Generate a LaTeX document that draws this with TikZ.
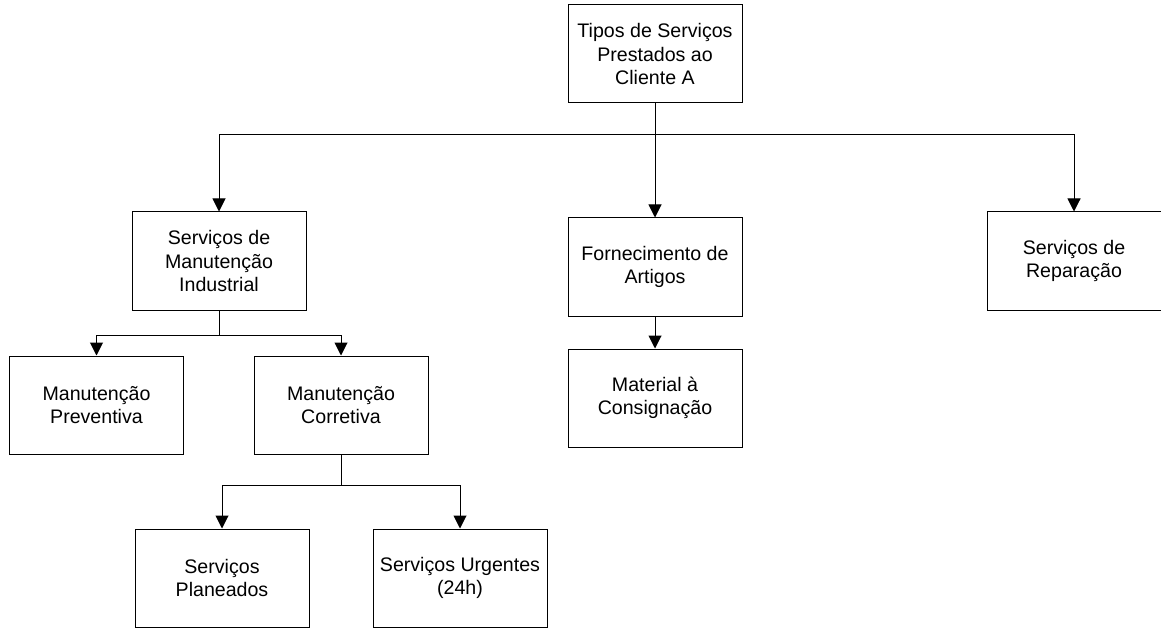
\documentclass[tikz,border=0pt]{standalone}
\usepackage{fontspec}
\setmainfont{Liberation Sans}
\usetikzlibrary{arrows.meta}
\begin{document}
\begin{tikzpicture}[x=1pt,y=-1pt,
  box/.style={draw=black, line width=1pt, minimum width=174pt, minimum height=98pt,
    inner sep=0pt, align=center, font=\fontsize{19.6}{23.4}\selectfont},
  conn/.style={draw=black, line width=1pt},
  arr/.style={conn, -{Triangle[width=13pt,length=13pt]}}]
\useasboundingbox (0,0) rectangle (1161,628);
\node[box] (top) at (655,54) {Tipos de Serviços\\Prestados ao\\Cliente A};
\node[box] (smi) at (219,261) {Serviços de\\Manutenção\\Industrial};
\node[box] (forn) at (655,267) {Fornecimento de\\Artigos};
\node[box] (rep) at (1074,261) {Serviços de\\Reparação};
\node[box] (prev) at (96.5,405) {Manutenção\\Preventiva};
\node[box] (corr) at (341,405) {Manutenção\\Corretiva};
\node[box] (mat) at (655,398) {Material à\\Consignação};
\node[box] (plan) at (222,578) {Serviços\\Planeados};
\node[box] (urg) at (460,578) {Serviços Urgentes\\(24h)};
\coordinate (j1) at (655,135);
\coordinate (j2) at (219,335);
\coordinate (j3) at (341,485);
\draw[arr] (top.south) -- (forn.north);
\draw[arr] (j1) -| (smi.north);
\draw[arr] (j1) -| (rep.north);
\draw[conn] (smi.south) -- (j2);
\draw[arr] (j2) -| (prev.north);
\draw[arr] (j2) -| (corr.north);
\draw[arr] (forn.south) -- (mat.north);
\draw[conn] (corr.south) -- (j3);
\draw[arr] (j3) -| (plan.north);
\draw[arr] (j3) -| (urg.north);
\end{tikzpicture}
\end{document}
